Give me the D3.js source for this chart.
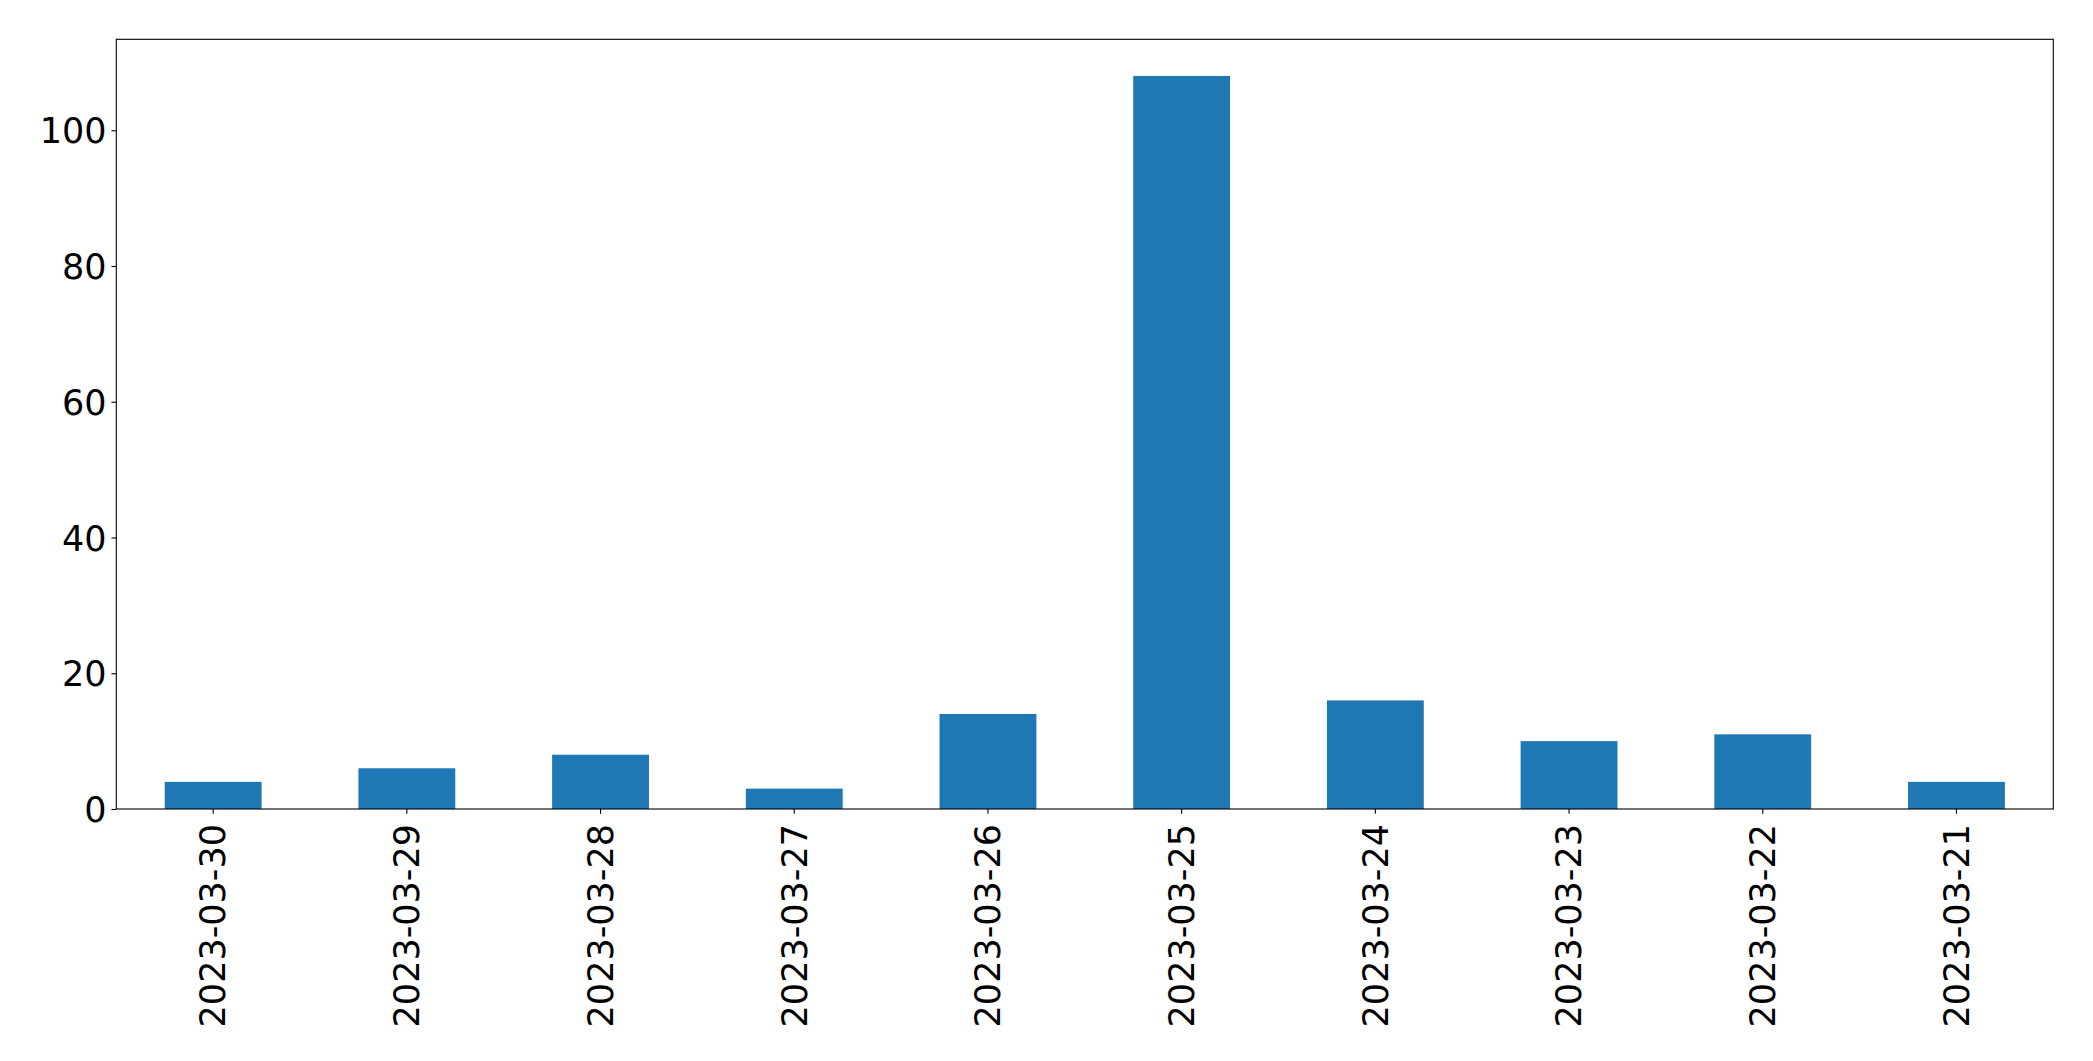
<!DOCTYPE html>
<html>
<head>
<meta charset="utf-8">
<script src="https://cdn.jsdelivr.net/npm/d3@7"></script>
<style>
  html, body { margin: 0; padding: 0; background: #fff; }
  svg { display: block; }
</style>
</head>
<body>
<svg id="chart" width="2093" height="1061"></svg>
<script>
const categories = ["2023-03-30","2023-03-29","2023-03-28","2023-03-27","2023-03-26","2023-03-25","2023-03-24","2023-03-23","2023-03-22","2023-03-21"];
const values = [4, 6, 8, 3, 14, 108, 16, 10, 11, 4];
const yTicks = [0, 20, 40, 60, 80, 100];

const W = 2093, H = 1061;
const margin = {left: 116.3, right: W - 2053.3, top: 39.3, bottom: H - 809};
const svg = d3.select("#chart");
const fontSize = 35;
const font = "DejaVu Sans";

const x = d3.scaleBand()
  .domain(categories)
  .range([margin.left, W - margin.right])
  .paddingInner(0.5)
  .paddingOuter(0.25);

const yMax = d3.max(values) * 1.05;
const y = d3.scaleLinear()
  .domain([0, yMax])
  .range([H - margin.bottom, margin.top]);

// bars
svg.append("g")
  .selectAll("rect")
  .data(values)
  .join("rect")
  .attr("x", (d, i) => x(categories[i]))
  .attr("width", x.bandwidth())
  .attr("y", d => y(d))
  .attr("height", d => y(0) - y(d))
  .attr("fill", "#1f77b4");

// x axis
const xAxis = svg.append("g")
  .attr("transform", `translate(0,${H - margin.bottom})`)
  .call(d3.axisBottom(x).tickSize(4.86).tickPadding(0).tickSizeOuter(0));
xAxis.select(".domain").remove();
xAxis.selectAll("line").attr("stroke", "#000").attr("stroke-width", 1.1);
xAxis.selectAll("text")
  .attr("font-family", font)
  .attr("font-size", fontSize)
  .attr("fill", "#000")
  .attr("text-anchor", "end")
  .attr("transform", "translate(0,15) rotate(-90)")
  .attr("x", 0)
  .attr("y", 0)
  .attr("dy", "0.35em");

// y axis
const yAxis = svg.append("g")
  .attr("transform", `translate(${margin.left},0)`)
  .call(d3.axisLeft(y).tickValues(yTicks).tickSize(4.86).tickPadding(4.86).tickSizeOuter(0));
yAxis.select(".domain").remove();
yAxis.selectAll("line").attr("stroke", "#000").attr("stroke-width", 1.1);
yAxis.selectAll("text")
  .attr("font-family", font)
  .attr("font-size", fontSize)
  .attr("fill", "#000")
  .attr("dy", "0.36em");

// frame
svg.append("rect")
  .attr("x", margin.left)
  .attr("y", margin.top)
  .attr("width", W - margin.left - margin.right)
  .attr("height", H - margin.top - margin.bottom)
  .attr("fill", "none")
  .attr("stroke", "#000")
  .attr("stroke-width", 1.1);
</script>
</body>
</html>
